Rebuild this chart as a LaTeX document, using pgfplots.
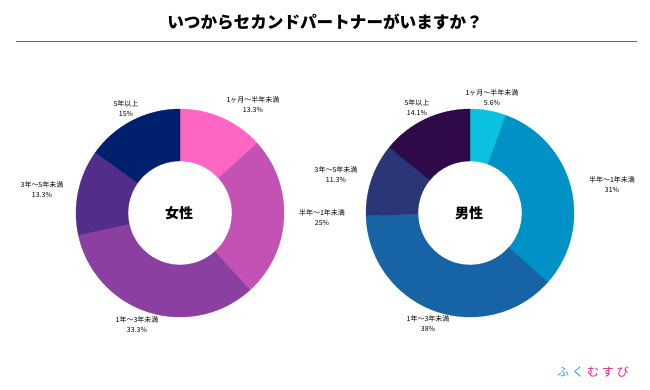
\documentclass[border=0pt]{standalone}
\usepackage{fontspec}
\setmainfont{Noto Sans CJK JP}
\usepackage{pgfplots}
\pgfplotsset{compat=1.18}
\definecolor{fA}{HTML}{FF66C4}
\definecolor{fB}{HTML}{C452B4}
\definecolor{fC}{HTML}{8B3FA1}
\definecolor{fD}{HTML}{522D8A}
\definecolor{fE}{HTML}{001F6C}
\definecolor{mA}{HTML}{0BC1E0}
\definecolor{mB}{HTML}{0091C7}
\definecolor{mC}{HTML}{1663A5}
\definecolor{mD}{HTML}{2A3678}
\definecolor{mE}{HTML}{2F0A49}
\definecolor{logoblue}{HTML}{1AA3E8}
\definecolor{logopink}{HTML}{E8207E}
\newcommand\Ro{104pt}
\newcommand\Ri{52pt}
\newcommand\Rd{52pt}
% \donutwedge{cx}{cy}{cumulative start %}{value %}{colour}
\newcommand\donutwedge[5]{%
  \fill[#5,draw=#5,line width=0.3pt] (axis cs:#1,#2) ++({90-3.6*#3}:\Ro)
    arc[start angle={90-3.6*#3}, delta angle={-3.6*#4}, radius=\Ro]
    -- ++({270-3.6*(#3+#4)}:\Rd)
    arc[start angle={90-3.6*(#3+#4)}, delta angle={3.6*#4}, radius=\Ri]
    -- cycle;}
\begin{document}
\begin{tikzpicture}
\begin{axis}[x=1pt,y=1pt,xmin=0,xmax=650,ymin=0,ymax=390,
  hide axis, clip=false, scale only axis]
\path (axis cs:0,0) rectangle (axis cs:650,390);
% Female: 13.3, 25, 33.3, 13.3, 15
\donutwedge{180}{177}{0}{13.3}{fA}
\donutwedge{180}{177}{13.3}{25}{fB}
\donutwedge{180}{177}{38.3}{33.3}{fC}
\donutwedge{180}{177}{71.6}{13.3}{fD}
\donutwedge{180}{177}{84.9}{15.1}{fE}
% Male: 5.6, 31, 38, 11.3, 14.1
\donutwedge{470}{177}{0}{5.6}{mA}
\donutwedge{470}{177}{5.6}{31}{mB}
\donutwedge{470}{177}{36.6}{38}{mC}
\donutwedge{470}{177}{74.6}{11.3}{mD}
\donutwedge{470}{177}{85.9}{14.1}{mE}
% centre labels
\node[font=\fontsize{14}{16}\selectfont\bfseries] at (axis cs:179,177) {女性};
\node[font=\fontsize{14}{16}\selectfont\bfseries] at (axis cs:469,177) {男性};
% slice labels
\tikzset{lab/.style={font=\fontsize{7}{10}\selectfont, align=center, inner sep=0pt}}
\node[lab] at (axis cs:253,285.5) {1ヶ月〜半年未満\\13.3\%};
\node[lab] at (axis cs:322,172) {半年〜1年未満\\25\%};
\node[lab] at (axis cs:137,65) {1年〜3年未満\\33.3\%};
\node[lab] at (axis cs:42,200.5) {3年〜5年未満\\13.3\%};
\node[lab] at (axis cs:126,281.5) {5年以上\\15\%};
\node[lab] at (axis cs:492,292.5) {1ヶ月〜半年未満\\5.6\%};
\node[lab] at (axis cs:612,205.5) {半年〜1年未満\\31\%};
\node[lab] at (axis cs:428,66.5) {1年〜3年未満\\38\%};
\node[lab] at (axis cs:336,215.5) {3年〜5年未満\\11.3\%};
\node[lab] at (axis cs:417,282.5) {5年以上\\14.1\%};
% title and rule
\node[font=\fontsize{16.6}{18}\selectfont\bfseries] at (axis cs:325,368) {いつからセカンドパートナーがいますか？};
\draw[gray!80!black, line width=1pt] (axis cs:16,348) -- (axis cs:637,348);
% logo
\node[font=\fontsize{12}{14}\selectfont, inner sep=0pt] at (axis cs:593,18)
  {\textcolor{logoblue}{ふ\hspace{3pt}く\hspace{3pt}}\textcolor{logopink}{む\hspace{3pt}す\hspace{3pt}び}};
\end{axis}
\end{tikzpicture}
\end{document}
